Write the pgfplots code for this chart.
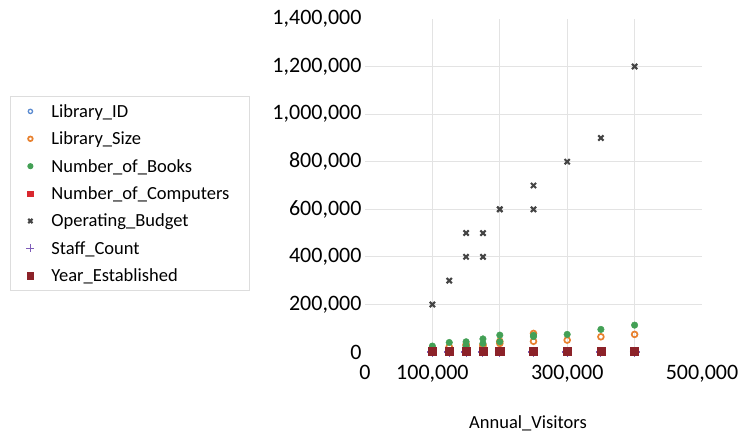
\documentclass[border=0pt]{standalone}
\usepackage{fontspec}
\setmainfont{Carlito}
\usepackage{pgfplots}
\usepackage{pgfplotstable}
\pgfplotsset{compat=1.18}
\definecolor{cID}{HTML}{5B8BD0}
\definecolor{cSize}{HTML}{E8812F}
\definecolor{cBooks}{HTML}{43A055}
\definecolor{cComp}{HTML}{D9282F}
\definecolor{cBud}{HTML}{444444}
\definecolor{cStaff}{HTML}{7E5CB8}
\definecolor{cYear}{HTML}{8C2229}
\definecolor{cGrid}{HTML}{E3E3E3}
\definecolor{cBorder}{HTML}{DDDDDD}
\pgfplotstableread{
V ID Size Books Comp Budget Staff Year
100000 1 15000 25000 20 200000 10 1990
125000 2 22000 40000 30 300000 15 1985
150000 3 28000 43000 40 400000 20 1995
150000 4 32000 25000 35 500000 18 2000
175000 5 30000 55000 45 500000 22 1980
175000 6 25000 36000 30 400000 16 2005
200000 7 45000 71000 60 600000 30 1975
200000 8 36000 43000 50 600000 25 1998
250000 9 78000 70000 80 700000 40 1960
250000 10 45000 65000 70 600000 35 2010
300000 11 50000 74000 90 800000 45 1970
350000 12 64000 95000 120 900000 50 1965
400000 13 74000 113000 150 1200000 60 1955
}\datatable
\pgfplotsset{
  myscatter/.style={only marks,
    legend image code/.code={\path[draw=none,fill=none] (0bp,-1bp) rectangle (24bp,1bp);
      \draw[##1, every mark/.append style={scale=0.8}] plot coordinates {(12bp,0bp)};}}
}
\begin{document}
\begin{tikzpicture}
\path[use as bounding box] (0,0) rectangle (739bp,432bp);
\begin{axis}[
  at={(365bp,80bp)}, anchor=south west,
  scale only axis, width=337bp, height=333bp,
  xmin=0, xmax=500000, ymin=0, ymax=1400000,
  axis line style={draw=none},
  major tick length=0pt,
  scaled ticks=false,
  xtick={100000,200000,300000,400000},
  xticklabels={{100,000},{},{300,000},{}},
  extra x ticks={0,500000},
  extra x tick labels={0,{500,000}},
  extra x tick style={grid=none},
  ytick={200000,400000,600000,800000,1000000,1200000},
  extra y ticks={0,1400000},
  extra y tick style={grid=none},
  grid=major,
  major grid style={draw=cGrid, line width=1bp},
  /pgf/number format/.cd, fixed, precision=0, 1000 sep={,}, assume math mode=true, /pgfplots/.cd,
  xticklabel style={font=\fontsize{22bp}{26bp}\selectfont, yshift=-10bp},
  yticklabel style={font=\fontsize{22bp}{26bp}\selectfont},
  xlabel={Annual\_Visitors},
  xlabel style={at={(axis description cs:0.4837,-0.2133)}, anchor=center, font=\fontsize{18.5bp}{22bp}\selectfont},
  legend cell align=left,
  legend style={at={(axis description cs:-1.0534,0.7688)}, anchor=north west,
    draw=cBorder, line width=0.8bp,
    font=\fontsize{18.5bp}{22bp}\selectfont,
    inner xsep=8bp, inner ysep=9bp, row sep=15.4bp,
    nodes={inner sep=0bp, text height=12bp, text depth=0bp},
    /tikz/every odd column/.append style={column sep=9bp},
    /tikz/every even column/.append style={nodes={text width=190bp, align=left}}},
]
\addplot[myscatter, mark=o, color=cID, mark size=2.7bp, line width=1.3bp] table[x=V, y=ID] {\datatable};
\addlegendentry{Library\_ID}
\addplot[myscatter, mark=o, color=cSize, mark size=2.9bp, line width=1.7bp] table[x=V, y=Size] {\datatable};
\addlegendentry{Library\_Size}
\addplot[myscatter, mark=*, color=cBooks, mark size=3.3bp] table[x=V, y=Books] {\datatable};
\addlegendentry{Number\_of\_Books}
\addplot[myscatter, mark=square*, color=cComp, mark size=3.2bp] table[x=V, y=Comp] {\datatable};
\addlegendentry{Number\_of\_Computers}
\addplot[myscatter, mark=x, color=cBud, mark size=3.7bp, line width=2.1bp] table[x=V, y=Budget] {\datatable};
\addlegendentry{Operating\_Budget}
\addplot[myscatter, mark=+, color=cStaff, mark size=5bp, line width=1.1bp] table[x=V, y=Staff] {\datatable};
\addlegendentry{Staff\_Count}
\addplot[myscatter, mark=square*, color=cYear, mark size=4.1bp] table[x=V, y=Year] {\datatable};
\addlegendentry{Year\_Established}
\end{axis}
\end{tikzpicture}
\end{document}
